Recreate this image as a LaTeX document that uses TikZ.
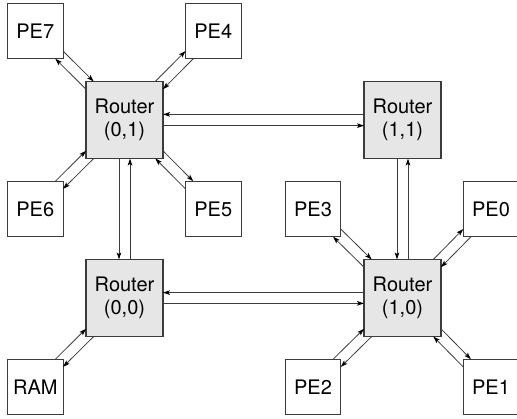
\documentclass[tikz,border=0pt]{standalone}
\usepackage{fontspec}
\setmainfont{TeX Gyre Heros}
\usetikzlibrary{arrows.meta,calc}
\definecolor{edgegray}{HTML}{3C3C3C}
\definecolor{routerfill}{HTML}{E6E6E6}
\begin{document}
\begin{tikzpicture}[x=1pt,y=-1pt,
  box/.style={draw=edgegray,line width=1.1pt,inner sep=0pt,outer sep=0pt,align=center,font=\fontsize{20}{23.3}\selectfont},
  router/.style={box,fill=routerfill,minimum size=77pt},
  pe/.style={box,fill=white,minimum size=55.5pt},
  arr/.style={draw=edgegray,line width=0.8pt,-{Stealth[length=7pt,width=4.6pt,inset=1.6pt,color=black]}}]
\clip (0,0) rectangle (517,418);
\useasboundingbox (0,0) rectangle (517,418);
% routers
\node[router] (r01) at (124.5,120) {Router\\(0,1)};
\node[router] (r11) at (402.5,120) {Router\\(1,1)};
\node[router] (r00) at (124.5,298) {Router\\(0,0)};
\node[router] (r10) at (402.5,298) {Router\\(1,0)};
% PEs
\node[pe] (pe7) at (35.3,31) {PE7};
\node[pe] (pe4) at (213.3,31) {PE4};
\node[pe] (pe6) at (35.3,209) {PE6};
\node[pe] (pe5) at (213.3,209) {PE5};
\node[pe] (pe3) at (313,209) {PE3};
\node[pe] (pe0) at (491,209) {PE0};
\node[pe] (ram) at (35.3,387) {RAM};
\node[pe] (pe2) at (313,387) {PE2};
\node[pe] (pe1) at (491,387) {PE1};
% router-router links
\draw[arr] ($(r11.west)+(0,-5.6)$) -- ($(r01.east)+(0,-5.6)$);
\draw[arr] ($(r01.east)+(0,5.6)$) -- ($(r11.west)+(0,5.6)$);
\draw[arr] ($(r10.west)+(0,-5.4)$) -- ($(r00.east)+(0,-5.4)$);
\draw[arr] ($(r00.east)+(0,5.4)$) -- ($(r10.west)+(0,5.4)$);
\draw[arr] ($(r01.south)+(-5.5,0)$) -- ($(r00.north)+(-5.5,0)$);
\draw[arr] ($(r00.north)+(5.5,0)$) -- ($(r01.south)+(5.5,0)$);
\draw[arr] ($(r11.south)+(-5.5,0)$) -- ($(r10.north)+(-5.5,0)$);
\draw[arr] ($(r10.north)+(5.5,0)$) -- ($(r11.south)+(5.5,0)$);
% diagonal links
\def\dd{7.7}
% top-left PEs
\foreach \p/\r in {pe7/r01,pe3/r10}{
  \draw[arr] ($(\p.south east)+(0,-\dd)$) -- ($(\r.north west)+(\dd,0)$);
  \draw[arr] ($(\r.north west)+(0,\dd)$) -- ($(\p.south east)+(-\dd,0)$);
}
% top-right PEs
\foreach \p/\r in {pe4/r01,pe0/r10}{
  \draw[arr] ($(\r.north east)+(-\dd,0)$) -- ($(\p.south west)+(0,-\dd)$);
  \draw[arr] ($(\p.south west)+(\dd,0)$) -- ($(\r.north east)+(0,\dd)$);
}
% bottom-left PEs
\foreach \p/\r in {pe6/r01,ram/r00,pe2/r10}{
  \draw[arr] ($(\p.north east)+(-\dd,0)$) -- ($(\r.south west)+(0,-\dd)$);
  \draw[arr] ($(\r.south west)+(\dd,0)$) -- ($(\p.north east)+(0,\dd)$);
}
% bottom-right PEs
\foreach \p/\r in {pe5/r01,pe1/r10}{
  \draw[arr] ($(\r.south east)+(0,-\dd)$) -- ($(\p.north west)+(\dd,0)$);
  \draw[arr] ($(\p.north west)+(0,\dd)$) -- ($(\r.south east)+(-\dd,0)$);
}
\end{tikzpicture}
\end{document}
